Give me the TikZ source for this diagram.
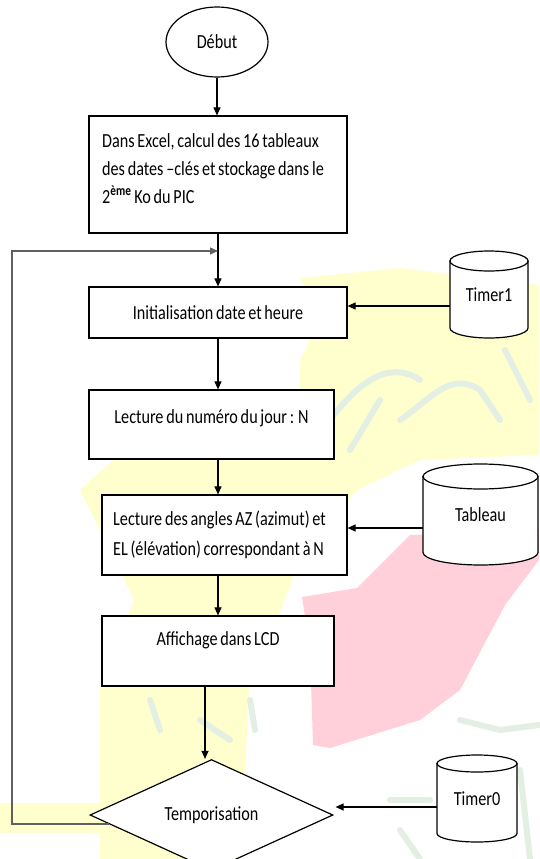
\documentclass[tikz,border=0pt]{standalone}
\usepackage{fontspec}
\setmainfont[FakeStretch=0.81, WordSpace=0.75]{Carlito}
\usetikzlibrary{arrows.meta,shapes.geometric,calc}
\definecolor{wmyellow}{HTML}{FFFFCE}
\definecolor{wmpink}{HTML}{FFD0D9}
\definecolor{wmgreen}{HTML}{E2EFE2}
\definecolor{loopgray}{HTML}{606060}
\tikzset{
  txt/.style={font=\fontsize{20}{28}\selectfont, text=black},
  procbox/.style={txt, draw=black, fill=white, line width=1.2pt, rectangle, inner sep=0pt},
  startnode/.style={txt, draw=black, fill=white, line width=1.2pt, ellipse, inner sep=0pt},
  decnode/.style={txt, draw=black, fill=white, line width=1.2pt, diamond, inner sep=0pt},
  cyltext/.style={txt, inner sep=0pt},
  cylline/.style={draw=black, fill=white, line width=1.2pt},
  arr/.style={line width=1.1pt, -{Triangle[length=8pt,width=7pt]}},
  looparr/.style={draw=loopgray, line width=1.4pt, -{Triangle[length=8pt,width=7pt]}},
  wmstroke/.style={draw=wmgreen, line width=6pt, line cap=round, line join=round}
}
\newcommand{\mycyl}[6]{% name, cx, top, w, h, ry
  \pgfmathsetmacro{\cl}{#2-#4/2}\pgfmathsetmacro{\cr}{#2+#4/2}
  \pgfmathsetmacro{\ct}{#3+#6}\pgfmathsetmacro{\cb}{#3+#5-#6}
  \pgfmathsetmacro{\rx}{#4/2}
  \path[cylline] (\cl,\ct) -- (\cl,\cb) arc[start angle=180, end angle=360, x radius=\rx pt, y radius=#6 pt] -- (\cr,\ct) -- cycle;
  \draw[cylline] (#2,\ct) ellipse[x radius=\rx pt, y radius=#6 pt];
}
\begin{document}
\begin{tikzpicture}[x=1pt,y=-1pt]
\useasboundingbox (0,0) rectangle (539,859);
% watermark
\fill[wmyellow] (300,278) -- (400,268) -- (539,285) -- (539,455) -- (420,460) -- (357,490) -- (300,560) -- (285,600) -- (250,680) -- (240,859) -- (100,859) -- (100,690) -- (134,600) -- (100,530) -- (80,490) -- (113,460) -- (300,390) -- (300,360) -- (320,320) -- cycle;
\fill[wmyellow] (0,803) rectangle (100,833);
\fill[wmpink] (302,597) -- (357,588) -- (410,535) -- (539,530) -- (539,560) -- (505,605) -- (460,690) -- (420,720) -- (330,748) -- (313,745) -- (310,650) -- cycle;
\draw[wmstroke] (330,420) .. controls (360,380) and (390,360) .. (420,380);
\draw[wmstroke] (400,420) .. controls (430,400) and (450,370) .. (480,390) -- (500,420);
\draw[wmstroke] (505,350) -- (530,400);
\draw[wmstroke] (350,450) -- (380,400);
\draw[wmstroke] (150,700) -- (160,730);
\draw[wmstroke] (200,720) -- (230,740);
\draw[wmstroke] (250,700) -- (255,730);
\draw[wmstroke] (390,800) -- (430,800);
\draw[wmstroke] (460,720) -- (500,730) -- (539,725);
\draw[wmstroke] (520,770) -- (530,859);
\draw[wmstroke] (400,830) -- (420,859);

% nodes
\node[startnode, minimum width=102pt, minimum height=70pt] (deb) at (217,42) {D\'ebut};
\node[procbox, minimum width=258pt, minimum height=117pt, align=left] (b1) at (218,174.5)
  {Dans Excel, calcul des 16 tableaux\hspace*{10pt}\mbox{}\\des dates --cl\'es et stockage dans le\hspace*{10pt}\mbox{}\\2\textsuperscript{\bfseries \`eme} Ko du PIC\\[-16pt]\mbox{}};
\node[procbox, minimum width=258pt, minimum height=51pt] (b2) at (218,312.5) {Initialisation date et heure};
\node[procbox, minimum width=245pt, minimum height=69pt, text depth=16pt] (b3) at (211.5,424.5) {Lecture du num\'ero du jour : N};
\node[procbox, minimum width=245pt, minimum height=80pt, align=left] (b4) at (224.5,535)
  {Lecture des angles AZ (azimut) et\hspace*{10pt}\mbox{}\\[2pt]EL (\'el\'evation) correspondant \`a N\hspace*{10pt}\mbox{}};
\node[procbox, minimum width=232pt, minimum height=70pt, text depth=24pt] (b5) at (218,651) {Affichage dans LCD};
\node[decnode, minimum width=243pt, minimum height=86pt] (tm) at (211.5,815) {Temporisation};

\mycyl{t1}{489}{251}{78}{87}{10}
\node[cyltext] (t1) at (489,294.5) {Timer1};
\mycyl{tab}{480.5}{464}{115}{101}{12.5}
\node[cyltext] (tab) at (480.5,514.5) {Tableau};
\mycyl{t0}{477}{755}{80}{87}{8.5}
\node[cyltext] (t0) at (477,798.5) {Timer0};
\coordinate (t1w) at (450,306);
\coordinate (tabw) at (423,528);
\coordinate (t0w) at (437,807);

\coordinate (j) at (218,251);
\coordinate (lc) at (12,251);

% connectors
\draw[arr] (deb.south) -- (deb.south |- b1.north);
\draw[arr] (b1.south) -- (b2.north);
\draw[arr] (b2.south) -- (b2.south |- b3.north);
\draw[arr] (b3.south -| b2.south) -- (b4.north -| b2.south);
\draw[arr] (b4.south -| b5.north) -- (b5.north);
\draw[arr] ([xshift=-13pt]b5.south) -- ([xshift=-13pt]b5.south |- tm.north);
\draw[arr] (t1w) -- (t1w -| b2.east);
\draw[arr] (tabw) -- (tabw -| b4.east);
\draw[arr] (t0w) -- ($(t0w -| tm.east)+(2,0)$);
\draw[looparr] (tm.185) -| (lc) -- (j);
\end{tikzpicture}
\end{document}
